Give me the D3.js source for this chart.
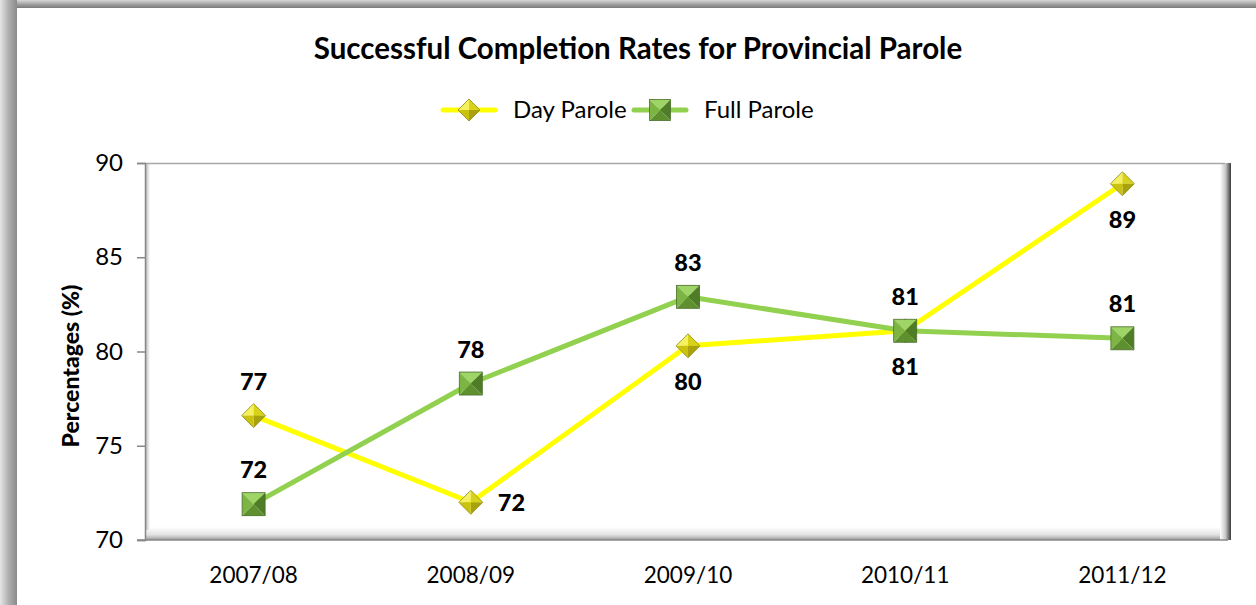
<!DOCTYPE html>
<html>
<head>
<meta charset="utf-8">
<script src="https://cdn.jsdelivr.net/npm/d3@7"></script>
<style>
  body { margin: 0; background: #fff; }
  text { font-family: Lato, "Noto Sans", sans-serif; }
</style>
</head>
<body>
<div id="svg"></div>
<script>
var categories = ["2007/08", "2008/09", "2009/10", "2010/11", "2011/12"];
var dayParole = [76.6, 72.0, 80.3, 81.1, 88.9];
var fullParole = [71.9, 78.3, 82.9, 81.1, 80.7];
var dayLabelPos = ["above", "right", "below", "below", "below"];
var fullLabelPos = ["above", "above", "above", "above", "above"];
var yTicks = [70, 75, 80, 85, 90];

var W = 1256, H = 605;
var margin = {top: 163, right: 25, bottom: 65, left: 145},
    width = W - margin.left - margin.right,
    height = H - margin.top - margin.bottom;

var svg = d3.select("#svg").append("svg")
    .attr("width", W).attr("height", H);

var defs = svg.append("defs");
function lin(id, x2, y2, stops) {
  var g = defs.append("linearGradient").attr("id", id)
    .attr("x1", 0).attr("y1", 0).attr("x2", x2).attr("y2", y2);
  stops.forEach(function (s) {
    g.append("stop").attr("offset", s[0]).attr("stop-color", s[1]);
  });
}
lin("frameTop", 0, 1, [[0, "#d8d8d8"], [0.6, "#9a9a9a"], [1, "#7a7a7a"]]);
lin("frameLeft", 1, 0, [[0, "#e6e6e6"], [0.5, "#b0b0b0"], [1, "#8a8a8a"]]);
lin("plotBottom", 0, 1, [[0, "#ffffff"], [0.6, "#e2e2e2"], [1, "#9a9a9a"]]);
lin("plotRight", 1, 0, [[0, "#ffffff"], [0.5, "#c8c8c8"], [1, "#3a3a3a"]]);
lin("plotLeft", 1, 0, [[0, "#b0b0b0"], [1, "#ffffff"]]);

// outer frame
svg.append("rect").attr("x", 0).attr("y", 0).attr("width", W).attr("height", 8)
  .attr("fill", "url(#frameTop)");
svg.append("rect").attr("x", 0).attr("y", 0).attr("width", 17).attr("height", H)
  .attr("fill", "url(#frameLeft)");

var g = svg.append("g")
  .attr("transform", "translate(" + margin.left + "," + margin.top + ")");

var x = d3.scaleBand().domain(categories).range([0, width]);
var y = d3.scaleLinear().domain([70, 90]).range([height, 0]);

// plot area bevel
g.append("rect").attr("x", 0).attr("y", height - 13).attr("width", width).attr("height", 13)
  .attr("fill", "url(#plotBottom)");
g.append("rect").attr("x", width - 11).attr("y", 0).attr("width", 11).attr("height", height)
  .attr("fill", "url(#plotRight)");
g.append("rect").attr("x", 0).attr("y", 0).attr("width", 5).attr("height", height - 10)
  .attr("fill", "url(#plotLeft)");
g.append("line").attr("x1", 0).attr("x2", width - 6).attr("y1", 0.5).attr("y2", 0.5)
  .attr("stroke", "#a8a8a8").attr("stroke-width", 1.5);

// Y axis
var yAxis = g.append("g").call(d3.axisLeft(y).tickValues(yTicks).tickSize(8).tickPadding(14));
yAxis.select(".domain").attr("stroke", "#888").attr("stroke-width", 1.5);
yAxis.selectAll(".tick line").attr("stroke", "#888").attr("stroke-width", 1.5);
yAxis.selectAll("text").style("font-size", "24px").attr("fill", "#000")
  .style("font-family", "Lato, sans-serif");

// X axis
var xAxis = g.append("g").attr("transform", "translate(0," + height + ")")
  .call(d3.axisBottom(x).tickSize(0).tickPadding(27));
xAxis.select(".domain").remove();
xAxis.selectAll("text").style("font-size", "22.5px").attr("fill", "#000")
  .style("font-family", "Lato, sans-serif");
g.append("line").attr("x1", -8).attr("x2", width - 3).attr("y1", height).attr("y2", height)
  .attr("stroke", "#888").attr("stroke-width", 1.5);

// Title
svg.append("text").attr("x", 638).attr("y", 59).attr("text-anchor", "middle")
  .style("font-size", "29.5px").style("font-weight", "bold").text("Successful Completion Rates for Provincial Parole");

// Y title
svg.append("text").attr("transform", "translate(79,366) rotate(-90)")
  .attr("text-anchor", "middle").style("font-size", "23px").style("font-weight", "900")
  .text("Percentages (%)");

// marker drawing
function diamond(sel, s) {
  var faces = [
    ["M0,0 L" + (-s) + ",0 L0," + (-s) + "Z", "#f4f060"],
    ["M0,0 L0," + (-s) + " L" + s + ",0Z", "#d8d21a"],
    ["M0,0 L" + s + ",0 L0," + s + "Z", "#a9a20c"],
    ["M0,0 L0," + s + " L" + (-s) + ",0Z", "#c9c20f"]
  ];
  faces.forEach(function (f) { sel.append("path").attr("d", f[0]).attr("fill", f[1]); });
  sel.append("path").attr("d", "M" + (-s) + ",0 L0," + (-s) + " L" + s + ",0 L0," + s + "Z")
    .attr("fill", "none").attr("stroke", "#8f8a10").attr("stroke-width", 0.8);
}
function square(sel, s) {
  var faces = [
    ["M0,0 L" + (-s) + "," + (-s) + " L" + s + "," + (-s) + "Z", "#9fd466"],
    ["M0,0 L" + s + "," + (-s) + " L" + s + "," + s + "Z", "#4f7c26"],
    ["M0,0 L" + s + "," + s + " L" + (-s) + "," + s + "Z", "#5f9030"],
    ["M0,0 L" + (-s) + "," + s + " L" + (-s) + "," + (-s) + "Z", "#7cb544"]
  ];
  faces.forEach(function (f) { sel.append("path").attr("d", f[0]).attr("fill", f[1]); });
  sel.append("rect").attr("x", -s).attr("y", -s).attr("width", 2 * s).attr("height", 2 * s)
    .attr("fill", "none").attr("stroke", "#4a6e2a").attr("stroke-width", 0.8);
}

var series = [
  {name: "Day Parole", values: dayParole, color: "#ffff00", marker: diamond, size: 12, pos: dayLabelPos},
  {name: "Full Parole", values: fullParole, color: "#92d050", marker: square, size: 11.5, pos: fullLabelPos}
];

var line = d3.line()
  .x(function (d, i) { return x(categories[i]) + x.bandwidth() / 2; })
  .y(function (d) { return y(d); });

series.forEach(function (s) {
  g.append("path").datum(s.values).attr("d", line)
    .attr("fill", "none").attr("stroke", s.color).attr("stroke-width", 5)
    .attr("stroke-linejoin", "round");
});

series.forEach(function (s) {
  s.values.forEach(function (v, i) {
    var cx = x(categories[i]) + x.bandwidth() / 2, cy = y(v);
    var m = g.append("g").attr("transform", "translate(" + cx + "," + cy + ")");
    s.marker(m, s.size);
    var lx = cx, ly = cy, anchor = "middle";
    if (s.pos[i] === "above") { ly = cy - 26; }
    else if (s.pos[i] === "below") { ly = cy + 44; }
    else { lx = cx + 27; ly = cy + 9; anchor = "start"; }
    g.append("text").attr("x", lx).attr("y", ly).attr("text-anchor", anchor)
      .style("font-size", "23.5px").style("font-weight", "900").text(Math.round(v));
  });
});

// Legend
var legendX = [443, 634];
series.forEach(function (s, i) {
  var lg = svg.append("g").attr("transform", "translate(" + legendX[i] + ",110)");
  lg.append("line").attr("x1", 0).attr("x2", 52).attr("stroke", s.color)
    .attr("stroke-width", 5).attr("stroke-linecap", "round");
  var m = lg.append("g").attr("transform", "translate(26,0)");
  s.marker(m, i === 0 ? 11 : 10.5);
  lg.append("text").attr("x", 70).attr("y", 8).style("font-size", "24px").text(s.name);
});
</script>
</body>
</html>
